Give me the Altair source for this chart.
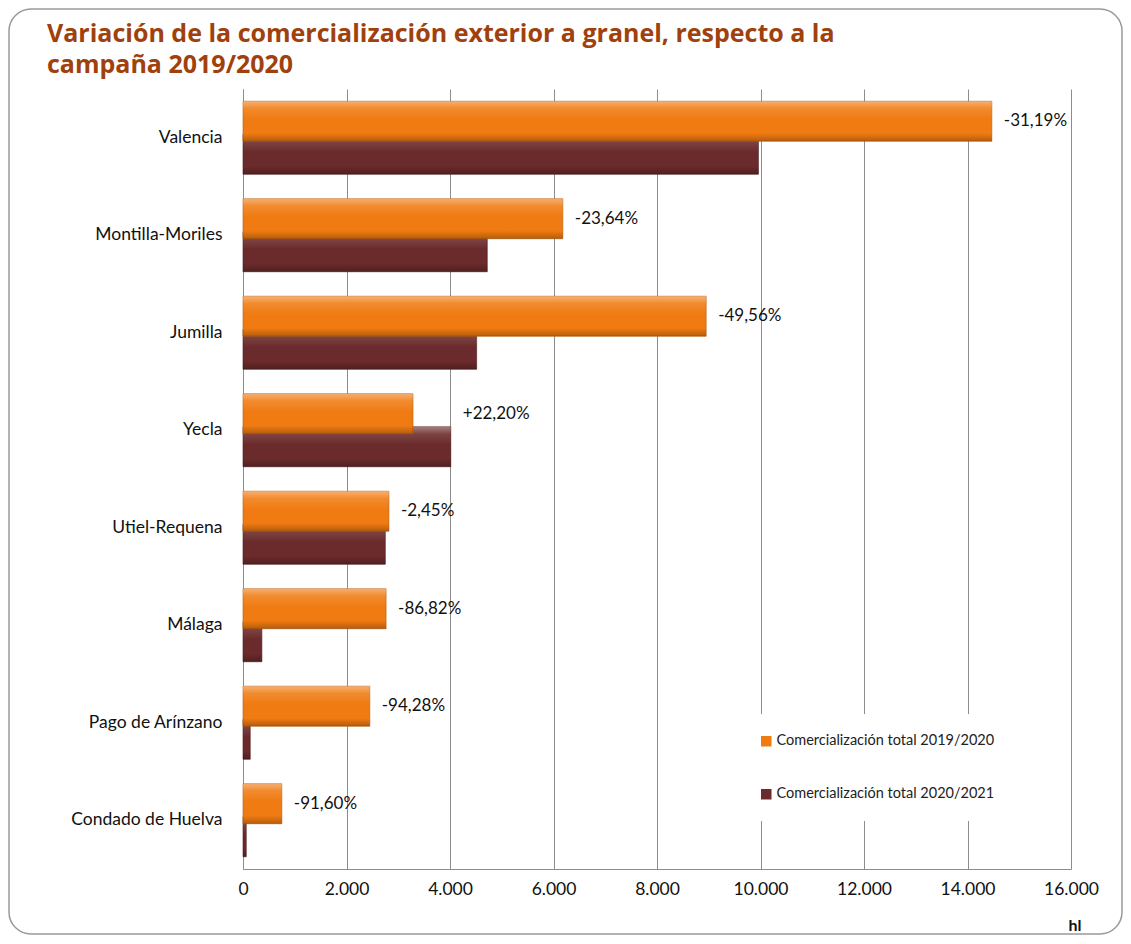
import altair as alt
import pandas as pd

categories = ["Valencia", "Montilla-Moriles", "Jumilla", "Yecla", "Utiel-Requena",
              "Málaga", "Pago de Arínzano", "Condado de Huelva"]
v2019 = [14470, 6180, 8950, 3285, 2820, 2765, 2450, 750]
v2020 = [9960, 4720, 4515, 4015, 2750, 365, 140, 63]
variation = ["-31,19%", "-23,64%", "-49,56%", "+22,20%", "-2,45%", "-86,82%", "-94,28%", "-91,60%"]
series = ["Comercialización total 2019/2020", "Comercialización total 2020/2021"]
colors = ["#F07B12", "#6B2A2B"]
x_ticks = [0, 2000, 4000, 6000, 8000, 10000, 12000, 14000, 16000]
title_lines = ["Variación de la comercialización exterior a granel, respecto a la",
               "campaña 2019/2020"]
unit = "hl"

FONT = "Lato"
GRID = "#8c8c8c"

rows = []
for c, a, b in zip(categories, v2019, v2020):
    rows.append({"cat": c, "serie": series[0], "value": a})
    rows.append({"cat": c, "serie": series[1], "value": b})
df = pd.DataFrame(rows)

df_lab = pd.DataFrame({
    "cat": categories,
    "serie": [series[0]] * len(categories),
    "xmax": [max(a, b) for a, b in zip(v2019, v2020)],
    "label": variation,
})

df_title = pd.DataFrame({"t": ["\n".join(title_lines)]})
df_unit = pd.DataFrame({"t": [unit]})
df_frame = pd.DataFrame({"k": [1]})

x_enc = alt.X("value:Q", stack=None,
              scale=alt.Scale(domain=[0, 16000], nice=False),
              axis=alt.Axis(values=x_ticks, title=None, grid=True, gridColor=GRID,
                            gridWidth=1, domainColor=GRID, domainWidth=1, ticks=False,
                            labelFont=FONT, labelFontSize=17.5, labelColor="#111",
                            labelPadding=11, labelFlush=False,
                            labelExpr="replace(format(datum.value, ','), ',', '.')"))
y_enc = alt.Y("cat:N", sort=categories,
              scale=alt.Scale(paddingInner=0.323, paddingOuter=0.1615),
              axis=alt.Axis(title=None, ticks=False, grid=False, domainColor=GRID,
                            domainWidth=1, labelFont=FONT, labelFontSize=17.5,
                            labelColor="#111", labelPadding=21, labelLimit=300))
yoff_enc = alt.YOffset("serie:N", sort=series,
                       scale=alt.Scale(domain=series, paddingInner=0, paddingOuter=0))
color_enc = alt.Color("serie:N",
                      scale=alt.Scale(domain=series, range=colors),
                      legend=alt.Legend(orient="none", legendX=496, legendY=625,
                                        title=None, fillColor="white", padding=20,
                                        rowPadding=38, symbolType="square",
                                        symbolSize=110, symbolStrokeWidth=0,
                                        labelFont=FONT, labelFontSize=14.5,
                                        labelLimit=400,
                                        labelColor="#222", labelOffset=3))

shade = alt.Gradient(
    gradient="linear", x1=0, x2=0, y1=0, y2=1,
    stops=[alt.GradientStop(color="rgba(255,255,255,0.40)", offset=0),
           alt.GradientStop(color="rgba(255,255,255,0.12)", offset=0.18),
           alt.GradientStop(color="rgba(255,255,255,0)", offset=0.45),
           alt.GradientStop(color="rgba(0,0,0,0)", offset=0.8),
           alt.GradientStop(color="rgba(0,0,0,0.25)", offset=1)])

base = alt.Chart(df).encode(x=x_enc, y=y_enc, yOffset=yoff_enc)

def solid(s, stroke):
    return base.transform_filter(alt.datum.serie == s).mark_bar(
        height=40, stroke=stroke, strokeWidth=1, strokeOpacity=0.6
    ).encode(color=color_enc)

def gloss(s):
    return base.transform_filter(alt.datum.serie == s).mark_bar(height=40, fill=shade)

frame = alt.Chart(df_frame).mark_rect(
    fill="transparent", stroke="#9a9a9a", strokeWidth=1.5, cornerRadius=22
).encode(x=alt.value(-234), x2=alt.value(879), y=alt.value(-80), y2=alt.value(845))

labels = alt.Chart(df_lab).mark_text(
    align="left", baseline="middle", dx=12, font=FONT, fontSize=17, color="#111"
).encode(
    x=alt.X("xmax:Q"), y=alt.Y("cat:N", sort=categories),
    yOffset=alt.YOffset("serie:N", sort=series), text="label:N")

title = alt.Chart(df_title).mark_text(
    align="left", baseline="alphabetic", font="Open Sans", fontSize=25, fontWeight="bold",
    color="#A0410D", lineBreak="\n", lineHeight=31
).encode(x=alt.value(-196), y=alt.value(-46.75), text="t:N")

unit_txt = alt.Chart(df_unit).mark_text(
    align="center", baseline="alphabetic", font=FONT, fontSize=16, fontWeight="bold",
    color="#111"
).encode(x=alt.value(832), y=alt.value(842), text="t:N")

chart = alt.layer(
    frame,
    solid(series[1], "#4a1a1a"), gloss(series[1]),
    solid(series[0], "#b85a08"), gloss(series[0]),
    labels, title, unit_txt
).properties(width=828, height=780, padding=0).configure_view(stroke=None)

chart.save("out.html", embed_options={"renderer": "svg", "actions": False})
